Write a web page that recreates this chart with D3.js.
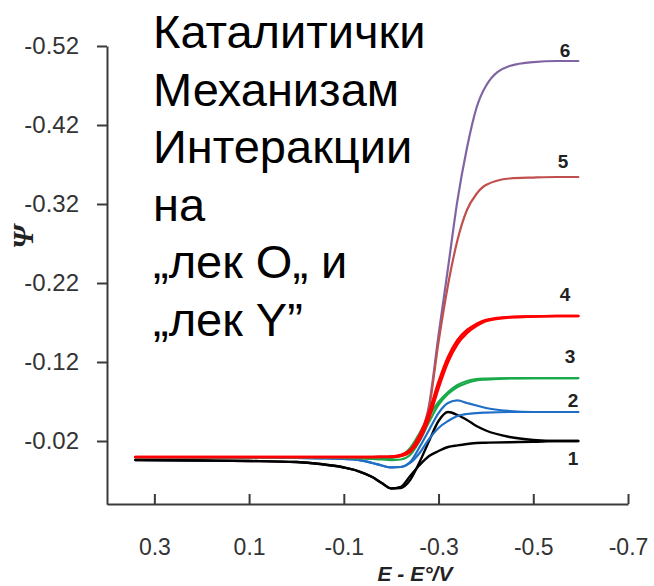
<!DOCTYPE html>
<html>
<head>
<meta charset="utf-8">
<script src="https://cdn.jsdelivr.net/npm/d3@7"></script>
<style>
  html, body { margin: 0; padding: 0; background: #fff; }
  svg { display: block; }
</style>
</head>
<body>
<svg id="chart" width="654" height="586"></svg>
<script>
// ---- data ----
const E = [0.34, 0.2, 0.1, 0.0, -0.05, -0.1, -0.13, -0.16, -0.18, -0.2, -0.22, -0.24,
           -0.26, -0.28, -0.30, -0.32, -0.34, -0.36, -0.38, -0.40, -0.45, -0.50, -0.55, -0.595];

const psi1Fwd = [0.004, 0.0047, 0.0053, 0.0066, 0.0091, 0.0135, 0.018, 0.0256, 0.0332, 0.0401, 0.0395, 0.0294,
                 0.0066, -0.020, -0.0453, -0.0567, -0.0529, -0.0466, -0.039, -0.0333, -0.0251, -0.0213, -0.020, -0.020];
const psi1Rev = [0.004, 0.0047, 0.0053, 0.0066, 0.0091, 0.0135, 0.018, 0.0256, 0.0332, 0.040, 0.038, 0.0243,
                 0.0104, -0.001, -0.0073, -0.0124, -0.0145, -0.0162, -0.0175, -0.0178, -0.0185, -0.019, -0.020, -0.020];

const psi2Fwd = [0.0009, 0.0009, 0.0009, 0.0015, 0.002, 0.0028, 0.004, 0.0078, 0.011, 0.0135, 0.0129, 0.0066,
                 -0.0124, -0.0339, -0.0554, -0.0681, -0.0713, -0.0681, -0.0649, -0.0618, -0.058, -0.0567, -0.0567, -0.0567];
const psi2Rev = [0.0009, 0.0009, 0.0009, 0.0015, 0.002, 0.0028, 0.004, 0.0078, 0.011, 0.0135, 0.0129, 0.0078,
                 -0.0048, -0.0225, -0.0365, -0.0453, -0.0516, -0.0542, -0.0554, -0.056, -0.0567, -0.0567, -0.0567, -0.0567];

const psi3Fwd = [0.0009, 0.0009, 0.0009, 0.0009, 0.0009, 0.0015, 0.002, 0.0028, 0.0034, 0.0041, 0.0034, -0.0023,
                 -0.020, -0.044, -0.0656, -0.0795, -0.0884, -0.0934, -0.0966, -0.0978, -0.0991, -0.0997, -0.0997, -0.0997];
const psi3Rev = [0.0009, 0.0009, 0.0009, 0.0009, 0.0009, 0.0009, 0.0009, 0.0015, 0.0022, 0.0015, -0.001, -0.0111,
                 -0.0301, -0.0516, -0.0694, -0.082, -0.0909, -0.096, -0.0985, -0.0991, -0.0997, -0.0997, -0.0997, -0.0997];

const psi4Fwd = [0.0003, 0.0003, 0.0003, 0.0003, 0.0003, 0.0003, 0.0003, 0.0003, 0.0, -0.0004, -0.0023, -0.0086,
                 -0.0276, -0.0567, -0.0947, -0.1263, -0.1478, -0.1605, -0.1681, -0.1732, -0.177, -0.1776, -0.1782, -0.1782];
const psi4Rev = [0.0003, 0.0003, 0.0003, 0.0003, 0.0003, 0.0003, 0.0003, 0.0003, 0.0003, 0.0003, -0.001, -0.0061,
                 -0.0213, -0.0491, -0.0871, -0.120, -0.1428, -0.1567, -0.1656, -0.1719, -0.1765, -0.1776, -0.1782, -0.1782];

const psi5 = [0.0003, 0.0003, 0.0003, 0.0003, 0.0003, 0.0003, 0.0003, 0.0003, 0.0, -0.0004, -0.0023, -0.0073,
              -0.0238, -0.0618, -0.1453, -0.2175, -0.2744, -0.3124, -0.3327, -0.344, -0.3523, -0.3535, -0.3542, -0.3542];
const psi6 = [0.0003, 0.0003, 0.0003, 0.0003, 0.0003, 0.0003, 0.0003, 0.0003, 0.0, -0.0004, -0.0023, -0.0073,
              -0.0238, -0.0656, -0.1542, -0.239, -0.325, -0.391, -0.4415, -0.4694, -0.4947, -0.4997, -0.501, -0.501];

const xTicks = [0.3, 0.1, -0.1, -0.3, -0.5, -0.7];
const yTicks = [-0.52, -0.42, -0.32, -0.22, -0.12, -0.02];
const curveLabels = ["1", "2", "3", "4", "5", "6"];
const titleLines = ["Каталитички", "Механизам", "Интеракции", "на", "„лек О„ и", "„лек Y”"];

// ---- layout ----
const svg = d3.select("#chart");
const x = d3.scaleLinear().domain([0.4, -0.7]).range([107, 628]);
const y = d3.scaleLinear().domain([0.06, -0.52]).range([504.2, 46]);

const series = [
  { key: "1", color: "#000000", width: 2.4, branches: [psi1Fwd, psi1Rev] },
  { key: "2", color: "#1f6fc6", width: 2.2, branches: [psi2Fwd, psi2Rev] },
  { key: "3", color: "#1aaa4a", width: 2.2, branches: [psi3Fwd, psi3Rev] },
  { key: "6", color: "#8064a2", width: 2.2, branches: [psi6] },
  { key: "5", color: "#c0504d", width: 2.2, branches: [psi5] },
  { key: "4", color: "#ff0000", width: 2.6, branches: [psi4Fwd, psi4Rev] }
];

const line = d3.line()
  .x(d => x(d[0]))
  .y(d => y(d[1]))
  .curve(d3.curveMonotoneX);

const gLines = svg.append("g");
series.forEach(s => {
  s.branches.forEach(b => {
    gLines.append("path")
      .attr("d", line(E.map((e, i) => [e, b[i]])))
      .attr("fill", "none")
      .attr("stroke", s.color)
      .attr("stroke-width", s.width)
      .attr("stroke-linejoin", "round")
      .attr("stroke-linecap", "round");
  });
});

// ---- axes ----
const hyphenFmt = p => v => d3.format(p)(v).replace("\u2212", "-");
const axisColor = "#3a3a3a";
const yAxis = svg.append("g")
  .attr("transform", "translate(107,0)")
  .call(d3.axisLeft(y).tickValues(yTicks).tickFormat(hyphenFmt(".2f"))
        .tickSizeInner(10).tickSizeOuter(0).tickPadding(18));
const xAxis = svg.append("g")
  .attr("transform", "translate(0,504)")
  .call(d3.axisBottom(x).tickValues(xTicks).tickFormat(hyphenFmt(".1f"))
        .tickSizeInner(-10).tickSizeOuter(0).tickPadding(35));

[yAxis, xAxis].forEach(g => {
  g.select(".domain").attr("stroke", axisColor).attr("stroke-width", 2);
  g.selectAll(".tick line").attr("stroke", axisColor).attr("stroke-width", 2);
  g.selectAll(".tick text")
    .attr("fill", "#333")
    .style("font-family", "'Liberation Sans', Arial, sans-serif")
    .style("font-size", "24px");
});
xAxis.selectAll(".tick text").attr("dy", "0.71em").style("font-size", "23px");

// axis titles
svg.append("text")
  .attr("transform", "translate(22,237) rotate(-90)")
  .attr("text-anchor", "middle")
  .attr("dy", "0.35em")
  .style("font-family", "'Liberation Serif', 'Times New Roman', serif")
  .style("font-style", "italic")
  .style("font-weight", "bold")
  .style("font-size", "30px")
  .attr("fill", "#222")
  .text("Ψ");

svg.append("text")
  .attr("x", 415).attr("y", 581)
  .attr("text-anchor", "middle")
  .style("font-family", "'Liberation Sans', Arial, sans-serif")
  .style("font-style", "italic")
  .style("font-weight", "bold")
  .style("font-size", "21px")
  .attr("fill", "#222")
  .text("E - E°/V");

// curve number labels
const labelPlacement = { "1": [573, 24], "2": [573, -5], "3": [570, -15], "4": [565, -15], "5": [563, -9], "6": [565, -4] };
const plateau = { "1": psi1Fwd, "2": psi2Fwd, "3": psi3Fwd, "4": psi4Fwd, "5": psi5, "6": psi6 };
curveLabels.forEach(k => {
  const arr = plateau[k];
  svg.append("text")
    .attr("x", labelPlacement[k][0])
    .attr("y", y(arr[arr.length - 1]) + labelPlacement[k][1])
    .attr("text-anchor", "middle")
    .style("font-family", "'Liberation Sans', Arial, sans-serif")
    .style("font-weight", "bold")
    .style("font-size", "19px")
    .attr("fill", "#222")
    .text(k);
});

// overlaid title text
const tt = svg.append("text")
  .style("font-family", "'Liberation Sans', Arial, sans-serif")
  .style("font-size", "47px")
  .attr("fill", "#000");
titleLines.forEach((t, i) => {
  tt.append("tspan").attr("x", 153).attr("y", 48 + i * 57.5).text(t);
});
</script>
</body>
</html>
